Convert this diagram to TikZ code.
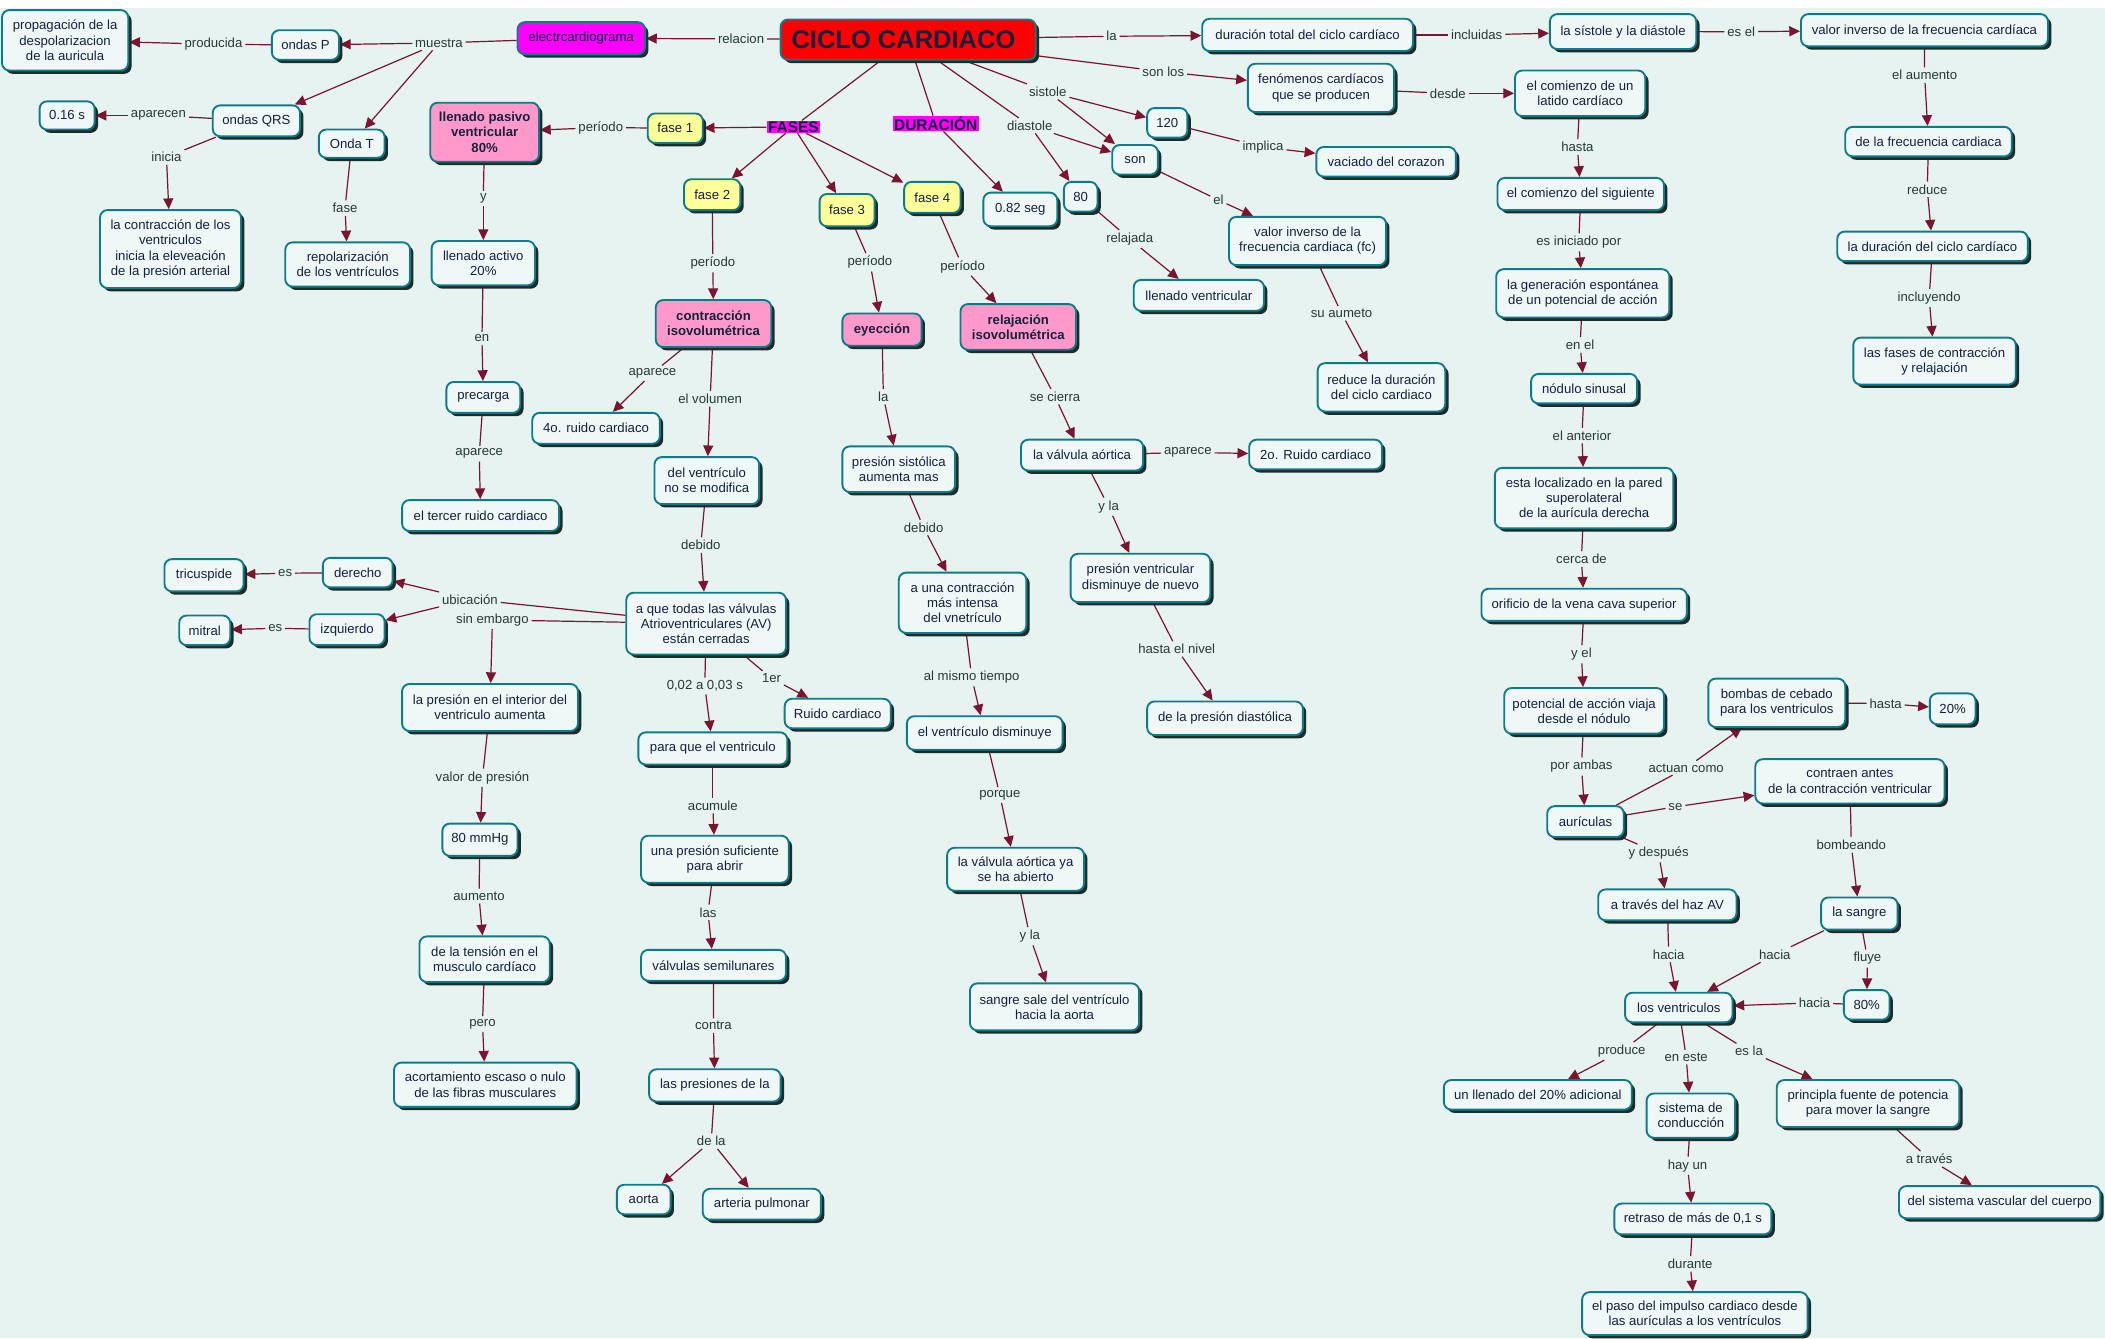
\documentclass[tikz,border=0pt]{standalone}
\usepackage{fontspec}
\setmainfont{Liberation Sans}
\usetikzlibrary{arrows.meta,shadows}
\definecolor{bgc}{HTML}{E6F3F0}
\definecolor{boxc}{HTML}{EFF7F7}
\definecolor{bordc}{HTML}{0E7C86}
\definecolor{shadc}{HTML}{1F2B2B}
\definecolor{linec}{HTML}{7B1430}
\definecolor{txtc}{HTML}{14213D}
\definecolor{labc}{HTML}{263A33}
\definecolor{pinkc}{HTML}{FF99CC}
\definecolor{yelc}{HTML}{FFFF99}
\definecolor{magc}{HTML}{FF00FF}
\definecolor{redc}{HTML}{FF0000}
\pgfdeclarelayer{bg}
\pgfdeclarelayer{lines}
\pgfsetlayers{bg,lines,main}
\newcommand\mybox[6][]{\node[box,minimum width=#4pt,minimum height=#5pt,#1] (#2) at (#3) {#6};}
\newcommand\mylab[3]{\node[lab] (#1) at (#2) {#3};}
\newcommand\mylink[3]{\draw[ln] (#1) -- (#2); \draw[arr] (#2) -- (#3);}
\tikzset{
  every node/.style={font=\fontsize{9.8}{11.3}\selectfont},
  box/.style={draw=bordc, line width=1.4pt, fill=boxc, rounded corners=5.5pt, text=txtc,
    align=center, inner sep=1.5pt,
    drop shadow={shadow xshift=2.5pt, shadow yshift=-2.5pt, fill=shadc, opacity=1}},
  pinkbox/.style={fill=pinkc, font=\fontsize{9.8}{11.3}\selectfont\bfseries},
  yelbox/.style={fill=yelc},
  lab/.style={text=labc, inner sep=2pt},
  hl/.style={fill=magc, text=txtc, inner xsep=1pt, inner ysep=0.5pt, font=\fontsize{11.5}{12}\selectfont\bfseries},
  ln/.style={draw=linec, line width=0.9pt},
  arr/.style={ln, -{Triangle[length=8pt,width=7.5pt]}},
}
\begin{document}
\begin{tikzpicture}[x=1pt,y=-1pt]
\useasboundingbox (0,0) rectangle (1568,997);
\begin{pgfonlayer}{bg}
\fill[white] (0,0) rectangle (1568,997);
\fill[bgc] (0,6) rectangle (1568,997);
\end{pgfonlayer}
% ---------- nodes ----------
\mybox[fill=redc, font=\fontsize{19}{22}\selectfont\bfseries]{ciclo}{676.5,29.5}{190}{30}{CICLO CARDIACO\hspace{7pt}}
\mybox[fill=magc]{ecg}{433,28.5}{95}{24}{electrcardiograma}
\mybox{prop}{48.5,30}{94}{45}{propagación de la\\despolarizacion\\de la auricula}
\mybox{ondasP}{227.5,33.5}{50}{22}{ondas P}
\mybox{t016}{50,86}{41}{21}{0.16 s}
\mybox{qrs}{191,90}{65}{23}{ondas QRS}
\mybox{contr}{127,185.5}{105}{58}{la contracción de los\\ventriculos\\inicia la eleveación\\de la presión arterial}
\mybox{ondaT}{262,107}{49}{21}{Onda T}
\mybox{repol}{259,197}{93}{33}{repolarización\\de los ventrículos}
\mybox[pinkbox]{pasivo}{361,98.5}{81}{44}{llenado pasivo\\ventricular\\80\%}
\mybox[yelbox]{fase1}{503,95.5}{41}{22}{fase 1}
\mybox{activo}{360,196}{77}{33}{llenado activo\\20\%}
\mybox{precarga}{360,296}{55}{23}{precarga}
\mybox{tercer}{358,384}{117}{23}{el tercer ruido cardiaco}
\mybox{ruido4}{444,319}{95}{23}{4o. ruido cardiaco}
\mybox{durtot}{974,26}{157}{24}{duración total del ciclo cardíaco}
\mybox{sisdia}{1209,23.5}{109}{26}{la sístole y la diástole}
\mybox{valinv}{1433.5,22.5}{184}{24}{valor inverso de la frecuencia cardíaca}
\mybox{defrec}{1436.5,105.5}{124}{22}{de la frecuencia cardiaca}
\mybox{ladur}{1439.5,183.5}{142}{22}{la duración del ciclo cardíaco}
\mybox{lasfases}{1441,269}{121}{35}{las fases de contracción\\y relajación}
\mybox{fenom}{984,65.5}{109}{36}{fenómenos cardíacos\\que se producen}
\mybox{comienzo}{1177,69.5}{97}{34}{el comienzo de un\\latido cardíaco}
\mybox{siguiente}{1177.5,144.5}{124}{24}{el comienzo del siguiente}
\mybox{generacion}{1179,218.5}{129}{36}{la generación espontánea\\de un potencial de acción}
\mybox{nodulo}{1180,289.5}{79}{22}{nódulo sinusal}
\mybox{localizado}{1180,371}{133}{45}{esta localizado en la pared\\superolateral\\de la aurícula derecha}
\mybox{orificio}{1180,450.5}{153}{24}{orificio de la vena cava superior}
\mybox{potencial}{1180,529.5}{119}{34}{potencial de acción viaja\\desde el nódulo}
\mybox{bombas}{1323.5,523.5}{102}{36}{bombas de cebado\\para los ventriculos}
\mybox{p20}{1454.5,528}{34}{23}{20\%}
\mybox{auriculas}{1181,612}{57}{23}{aurículas}
\mybox{contraen}{1378,582}{141}{33}{contraen antes\\de la contracción ventricular}
\mybox{haz}{1242,674}{103}{23}{a través del haz AV}
\mybox{sangre}{1385,680.5}{57}{24}{la sangre}
\mybox{p80}{1390.5,748.5}{34}{22}{80\%}
\mybox{ventriculos}{1250.5,750.5}{80}{22}{los ventriculos}
\mybox{llenado20}{1145.5,815.5}{140}{22}{un llenado del 20\% adicional}
\mybox{sistcond}{1259.5,831}{66}{33}{sistema de\\conducción}
\mybox{fuente}{1391.5,822}{136}{35}{principla fuente de potencia\\para mover la sangre}
\mybox{vascular}{1489.5,895.5}{150}{24}{del sistema vascular del cuerpo}
\mybox{retraso}{1261,908}{117}{23}{retraso de más de 0,1 s}
\mybox{paso}{1262.5,978.5}{168}{32}{el paso del impulso cardiaco desde\\las aurículas a los ventrículos}
\mybox{n120}{869.5,91.5}{30}{22}{120}
\mybox{vaciado}{1032.5,120.5}{104}{22}{vaciado del corazon}
\mybox{son}{845.5,119}{34}{22}{son}
\mybox{valfc}{974,179.5}{117}{36}{valor inverso de la\\frecuencia cardiaca (fc)}
\mybox{reduce}{1029,288.5}{95}{36}{reduce la duración\\del ciclo cardiaco}
\mybox{seg}{760,156}{55}{25}{0.82 seg}
\mybox{n80}{805,146.5}{25}{22}{80}
\mybox{llvent}{893,220}{97}{23}{llenado ventricular}
\mybox[yelbox]{fase2}{530.5,145}{42}{23}{fase 2}
\mybox[yelbox]{fase3}{631,156.5}{41}{24}{fase 3}
\mybox[yelbox]{fase4}{694.5,147}{42}{23}{fase 4}
\mybox[pinkbox]{isoc}{531.5,241}{86}{35}{contracción\\isovolumétrica}
\mybox[pinkbox]{eyec}{657,245.5}{59}{24}{eyección}
\mybox[pinkbox]{isor}{758.5,243.5}{86}{34}{relajación\\isovolumétrica}
\mybox{sist}{669.5,349.5}{84}{34}{presión sistólica\\aumenta mas}
\mybox{valao}{806,339}{91}{23}{la válvula aórtica}
\mybox{ruido2}{980,338.5}{99}{22}{2o. Ruido cardiaco}
\mybox{pvent}{849.5,430.5}{104}{36}{presión ventricular\\disminuye de nuevo}
\mybox{pdiast}{912.5,535}{116}{25}{de la presión diastólica}
\mybox{intensa}{717,449}{95}{45}{a una contracción\\más intensa\\del vnetrículo}
\mybox{vdism}{733.5,546}{116}{25}{el ventrículo disminuye}
\mybox{abierto}{756.5,647.5}{102}{32}{la válvula aórtica ya\\se ha abierto}
\mybox{sale}{785.5,750}{126}{35}{sangre sale del ventrículo\\hacia la aorta}
\mybox{nomod}{526.5,358}{78}{35}{del ventrículo\\no se modifica}
\mybox{todas}{526,464.5}{119}{46}{a que todas las válvulas\\Atrioventriculares (AV)\\están cerradas}
\mybox{derecho}{266.5,426.5}{52}{22}{derecho}
\mybox{tricus}{152,428.5}{59}{24}{tricuspide}
\mybox{izq}{258.5,469}{56}{23}{izquierdo}
\mybox{mitral}{152.5,469.5}{38}{22}{mitral}
\mybox{pint}{365,527}{131}{35}{la presión en el interior del\\ventriculo aumenta}
\mybox{mmhg}{357.5,625.5}{56}{24}{80 mmHg}
\mybox{tension}{361,714.5}{97}{34}{de la tensión en el\\musculo cardíaco}
\mybox{acort}{361.5,808}{136}{33}{acortamiento escaso o nulo\\de las fibras musculares}
\mybox{ruidoc}{624,531.5}{79}{22}{Ruido cardiaco}
\mybox{paraque}{531,557.5}{111}{24}{para que el ventriculo}
\mybox{suf}{532.5,640}{110}{35}{una presión suficiente\\para abrir}
\mybox{semi}{531.5,719}{108}{23}{válvulas semilunares}
\mybox{lasp}{532.5,808.5}{98}{24}{las presiones de la}
\mybox{aorta}{479.5,893.5}{40}{22}{aorta}
\mybox{pulm}{567.5,897}{88}{23}{arteria pulmonar}
% ---------- labels ----------
\node[hl] (fases) at (591,94.5) {FASES};
\node[hl] (durac) at (697,92) {DURACIÓN};
\mylab{lrelacion}{552,29}{relacion}
\mylab{lmuestra}{327,32}{muestra}
\mylab{lproducida}{159,33}{producida}
\mylab{laparecen}{118,86}{aparecen}
\mylab{linicia}{124,117}{inicia}
\mylab{lfase}{257,155}{fase}
\mylab{lperiodoa}{447.5,95}{período}
\mylab{ly}{360,148}{y}
\mylab{len}{359,252}{en}
\mylab{lapareceA}{357,338}{aparece}
\mylab{lapareceB}{486,278}{aparece}
\mylab{lla}{828,27}{la}
\mylab{lincluidas}{1100,26}{incluidas}
\mylab{lesel}{1297,23.6}{es el}
\mylab{laumento}{1433.6,56}{el aumento}
\mylab{lreduce}{1435.6,141}{reduce}
\mylab{lincluyendo}{1437,222}{incluyendo}
\mylab{lsonlos}{866.5,53.4}{son los}
\mylab{ldesde}{1078.5,69.5}{desde}
\mylab{lhasta}{1175,109.5}{hasta}
\mylab{liniciado}{1176,180.5}{es iniciado por}
\mylab{lenel}{1177,257}{en el}
\mylab{lanterior}{1178.4,324.5}{el anterior}
\mylab{lcerca}{1178,416.4}{cerca de}
\mylab{lyel}{1178,487.4}{y el}
\mylab{lporambas}{1178,571}{por ambas}
\mylab{lactuan}{1256,572}{actuan como}
\mylab{lhastaB}{1404.6,524}{hasta}
\mylab{lse}{1248,601}{se}
\mylab{lydespues}{1235.5,635.6}{y después}
\mylab{lbombeando}{1379,629.4}{bombeando}
\mylab{lhaciaA}{1243,711}{hacia}
\mylab{lhaciaB}{1322,711}{hacia}
\mylab{lfluye}{1391,714}{fluye}
\mylab{lhaciaC}{1351.6,747}{hacia}
\mylab{lproduce}{1208,783}{produce}
\mylab{leneste}{1256,787.5}{en este}
\mylab{lesla}{1302.8,783}{es la}
\mylab{latraves}{1437,863.3}{a través}
\mylab{lhayun}{1257,868.3}{hay un}
\mylab{ldurante}{1259,941.5}{durante}
\mylab{lsistole}{780.5,68.3}{sistole}
\mylab{ldiastole}{767,93.6}{diastole}
\mylab{limplica}{940.8,109.5}{implica}
\mylab{lel}{907.6,149}{el}
\mylab{laumeto}{999.3,233.4}{su aumeto}
\mylab{lrelajada}{841.5,178}{relajada}
\mylab{lperiodob}{531,196}{período}
\mylab{lperiodoc}{648,195.4}{período}
\mylab{lperiodod}{717,198.6}{período}
\mylab{llaB}{658,295.5}{la}
\mylab{lsecierra}{785.9,295.5}{se cierra}
\mylab{lvolumen}{529,297}{el volumen}
\mylab{lapareceC}{884.8,337}{aparece}
\mylab{lylaA}{825.8,377.4}{y la}
\mylab{lhastanivel}{876.5,483.4}{hasta el nivel}
\mylab{ldebidoA}{688,393}{debido}
\mylab{lmismo}{723.8,504.5}{al mismo tiempo}
\mylab{lporque}{744.8,592.2}{porque}
\mylab{lylaB}{767.1,697.4}{y la}
\mylab{ldebidoB}{522,406}{debido}
\mylab{lubicacion}{350,446.4}{ubicación}
\mylab{lsinembargo}{366.8,461.8}{sin embargo}
\mylab{lesA}{212.4,427}{es}
\mylab{lesB}{205,468}{es}
\mylab{lvalor}{359.4,579.3}{valor de presión}
\mylab{laumentoB}{356.8,667.6}{aumento}
\mylab{lpero}{359.4,762.8}{pero}
\mylab{lcero}{525,511}{0,02 a 0,03 s}
\mylab{lprimer}{574.7,505.3}{1er}
\mylab{lacumule}{531,600}{acumule}
\mylab{llas}{527.4,679.6}{las}
\mylab{lcontra}{531.4,764}{contra}
\mylab{ldela}{529.8,850}{de la}
% ---------- connectors ----------
\begin{pgfonlayer}{lines}
\mylink{ciclo}{lrelacion}{ecg}
\draw[ln] (ecg) -- (lmuestra);
\draw[arr] (lmuestra) -- (ondasP);
\draw[arr] (lmuestra) -- (qrs);
\draw[arr] (lmuestra) -- (ondaT);
\mylink{ondasP}{lproducida}{prop}
\mylink{qrs}{laparecen}{t016}
\mylink{qrs}{linicia}{contr}
\mylink{ondaT}{lfase}{repol}
\mylink{ciclo}{lla}{durtot}
\mylink{durtot}{lincluidas}{sisdia}
\mylink{sisdia}{lesel}{valinv}
\mylink{valinv}{laumento}{defrec}
\mylink{defrec}{lreduce}{ladur}
\mylink{ladur}{lincluyendo}{lasfases}
\mylink{ciclo}{lsonlos}{fenom}
\mylink{fenom}{ldesde}{comienzo}
\mylink{comienzo}{lhasta}{siguiente}
\mylink{siguiente}{liniciado}{generacion}
\mylink{generacion}{lenel}{nodulo}
\mylink{nodulo}{lanterior}{localizado}
\mylink{localizado}{lcerca}{orificio}
\mylink{orificio}{lyel}{potencial}
\mylink{potencial}{lporambas}{auriculas}
\mylink{auriculas}{lactuan}{bombas}
\mylink{bombas}{lhastaB}{p20}
\mylink{auriculas}{lse}{contraen}
\mylink{contraen}{lbombeando}{sangre}
\mylink{auriculas}{lydespues}{haz}
\mylink{haz}{lhaciaA}{ventriculos}
\mylink{sangre}{lhaciaB}{ventriculos}
\mylink{sangre}{lfluye}{p80}
\mylink{p80}{lhaciaC}{ventriculos}
\mylink{ventriculos}{lproduce}{llenado20}
\mylink{ventriculos}{leneste}{sistcond}
\mylink{ventriculos}{lesla}{fuente}
\mylink{fuente}{latraves}{vascular}
\mylink{sistcond}{lhayun}{retraso}
\mylink{retraso}{ldurante}{paso}
\draw[ln] (ciclo) -- (fases);
\draw[arr] (fases) -- (fase1);
\draw[arr] (fases) -- (fase2);
\draw[arr] (fases) -- (fase3);
\draw[arr] (fases) -- (fase4);
\mylink{ciclo}{durac}{seg}
\draw[ln] (ciclo) -- (lsistole);
\draw[arr] (lsistole) -- (n120);
\draw[arr] (lsistole) -- (son);
\draw[ln] (ciclo) -- (ldiastole);
\draw[arr] (ldiastole) -- (son);
\draw[arr] (ldiastole) -- (n80);
\mylink{n120}{limplica}{vaciado}
\mylink{son}{lel}{valfc}
\mylink{valfc}{laumeto}{reduce}
\mylink{n80}{lrelajada}{llvent}
\mylink{fase1}{lperiodoa}{pasivo}
\mylink{fase2}{lperiodob}{isoc}
\mylink{fase3}{lperiodoc}{eyec}
\mylink{fase4}{lperiodod}{isor}
\mylink{pasivo}{ly}{activo}
\mylink{activo}{len}{precarga}
\mylink{precarga}{lapareceA}{tercer}
\mylink{isoc}{lapareceB}{ruido4}
\mylink{isoc}{lvolumen}{nomod}
\mylink{nomod}{ldebidoB}{todas}
\draw[ln] (todas) -- (lubicacion);
\draw[arr] (lubicacion) -- (derecho);
\draw[arr] (lubicacion) -- (izq);
\mylink{todas}{lsinembargo}{pint}
\mylink{derecho}{lesA}{tricus}
\mylink{izq}{lesB}{mitral}
\mylink{pint}{lvalor}{mmhg}
\mylink{mmhg}{laumentoB}{tension}
\mylink{tension}{lpero}{acort}
\mylink{todas}{lcero}{paraque}
\mylink{todas}{lprimer}{ruidoc}
\mylink{paraque}{lacumule}{suf}
\mylink{suf}{llas}{semi}
\mylink{semi}{lcontra}{lasp}
\draw[ln] (lasp) -- (ldela);
\draw[arr] (ldela) -- (aorta);
\draw[arr] (ldela) -- (pulm);
\mylink{eyec}{llaB}{sist}
\mylink{sist}{ldebidoA}{intensa}
\mylink{intensa}{lmismo}{vdism}
\mylink{vdism}{lporque}{abierto}
\mylink{abierto}{lylaB}{sale}
\mylink{isor}{lsecierra}{valao}
\mylink{valao}{lapareceC}{ruido2}
\mylink{valao}{lylaA}{pvent}
\mylink{pvent}{lhastanivel}{pdiast}
\end{pgfonlayer}
\end{tikzpicture}
\end{document}
